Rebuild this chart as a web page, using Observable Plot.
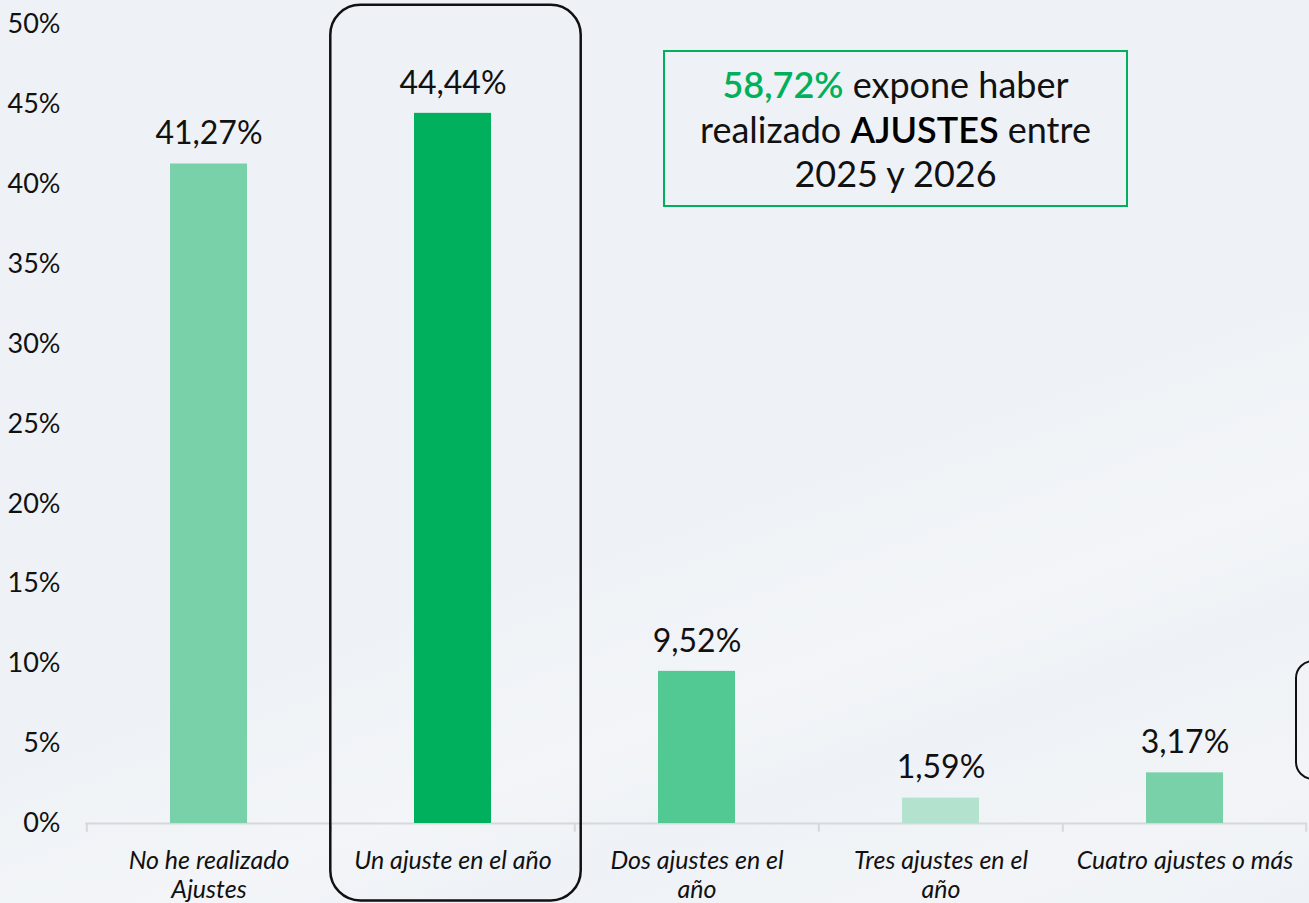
<!DOCTYPE html>
<html>
<head>
<meta charset="utf-8">
<script src="https://cdn.jsdelivr.net/npm/d3@7"></script>
<script src="https://cdn.jsdelivr.net/npm/@observablehq/plot@0.6"></script>
<style>
  html, body { margin: 0; padding: 0; }
  body { width: 1309px; height: 903px; overflow: hidden; background: #eef2f6; font-family: Lato, "Noto Sans", sans-serif; }
  #wrap { position: relative; width: 1309px; height: 903px;
    background: linear-gradient(160deg, #eef2f6 0%, #eef2f6 55%, #f3f5f8 70%, #eef2f6 78%, #f2f4f7 90%, #eef2f6 100%); }
  #note { position: absolute; left: 663px; top: 50px; width: 461px; height: 153px;
    border: 2px solid #00b05c; box-sizing: content-box; text-align: center;
    font-size: 36px; line-height: 44.5px; color: #111; }
  #note .inner { position: absolute; left: 0; right: 0; top: 10px; }
  #note .g { color: #00b05c; font-weight: 600; }
  #note .b { font-weight: 600; color: #000; }
  #edgebox { position: absolute; left: 1295px; top: 660px; width: 60px; height: 116px;
    border: 2px solid #111; border-radius: 18px; }
  svg { position: absolute; left: 0; top: 0; overflow: visible; }
</style>
</head>
<body>
<div id="wrap">
  <div id="chart"></div>
  <div id="note"><div class="inner"><span class="g">58,72%</span> expone haber<br>realizado <span class="b">AJUSTES</span> entre<br>2025 y 2026</div></div>
  <div id="edgebox"></div>
</div>
<script>
const categories = [
  "No he realizado Ajustes",
  "Un ajuste en el año",
  "Dos ajustes en el año",
  "Tres ajustes en el año",
  "Cuatro ajustes o más"
];
const tickLabels = [
  "No he realizado\nAjustes",
  "Un ajuste en el año",
  "Dos ajustes en el\naño",
  "Tres ajustes en el\naño",
  "Cuatro ajustes o más"
];
const values = [41.27, 44.44, 9.52, 1.59, 3.17];
const barColors = ["#79d1aa", "#00b05c", "#52c893", "#b3e3cf", "#79d1aa"];
const yTicks = [0, 5, 10, 15, 20, 25, 30, 35, 40, 45, 50];
const highlighted = "Un ajuste en el año";

const data = categories.map((c, i) => ({cat: c, value: values[i], color: barColors[i], label: tickLabels[i]}));

const W = 1309, H = 903, ML = 85, MR = 2, MT = 24, MB = 80;
const PAD = 0.685;
const step = (W - ML - MR) / categories.length;
const bw = step * (1 - PAD);
const fmt = v => v.toFixed(2).replace(".", ",") + "%";

const chart = Plot.plot({
  width: W,
  height: H,
  marginLeft: ML,
  marginRight: MR,
  marginTop: MT,
  marginBottom: MB,
  style: {background: "transparent", fontFamily: "Lato, 'Noto Sans', sans-serif", color: "#111"},
  x: {domain: categories, paddingInner: PAD, paddingOuter: PAD / 2, align: 0.5, label: null},
  y: {domain: [0, 50], label: null},
  marks: [
    Plot.ruleY([0], {stroke: "#d6d8db", strokeWidth: 2}),
    Plot.ruleX(categories, {x: d => d, dx: -step / 2, y1: 0, y2: -0.55, stroke: "#d6d8db", strokeWidth: 2}),
    Plot.ruleX([categories[categories.length - 1]], {x: d => d, dx: step / 2 - 1, y1: 0, y2: -0.55, stroke: "#d6d8db", strokeWidth: 2}),
    Plot.barY(data, {x: "cat", y: "value", fill: d => d.color}),
    Plot.text(data, {x: "cat", y: "value", text: d => fmt(d.value), dy: -30, fontSize: 32, fill: "#111"}),
    Plot.barY([highlighted], {x: d => d, y1: () => 51.2, y2: () => -4.85,
      insetLeft: -(step - bw) / 2, insetRight: -(step - bw) / 2 - 6, rx: 30,
      fill: "none", stroke: "#111", strokeWidth: 2.5}),
    Plot.axisY({ticks: yTicks, tickSize: 0, tickPadding: 25, tickFormat: d => d + "%", fontSize: 27, label: null}),
    Plot.axisX({tickSize: 0, tickPadding: 25, fontSize: 25, fontStyle: "italic", lineHeight: 1.15,
      tickFormat: d => tickLabels[categories.indexOf(d)], label: null})
  ]
});
document.getElementById("chart").appendChild(chart);
</script>
</body>
</html>
